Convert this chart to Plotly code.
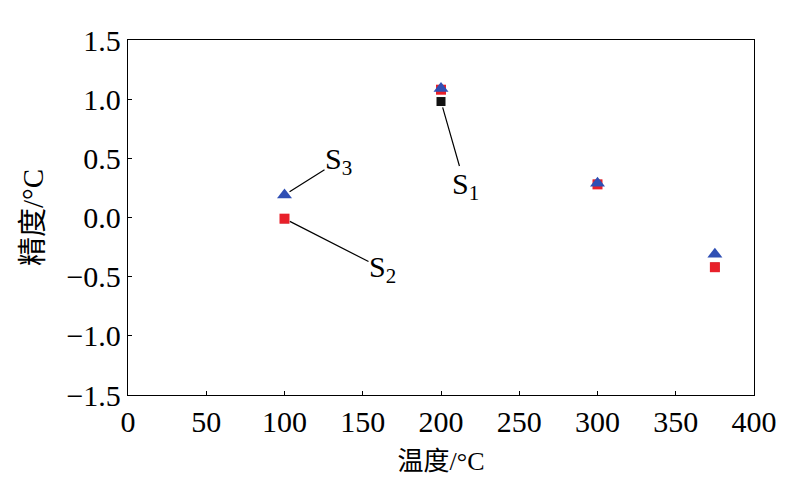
import plotly.graph_objects as go

temps = [100, 200, 300, 375]
s1 = [-0.01, 0.98, 0.28, -0.42]
s2 = [-0.01, 1.08, 0.28, -0.42]
s3 = [0.19, 1.09, 0.29, -0.31]
x_ticks = [0, 50, 100, 150, 200, 250, 300, 350, 400]
y_ticks = [-1.5, -1.0, -0.5, 0.0, 0.5, 1.0, 1.5]

FONT = "Liberation Serif, Noto Sans CJK SC, serif"

fig = go.Figure()
fig.add_trace(go.Scatter(x=temps, y=s1, mode="markers", name="S1",
                         marker=dict(symbol="square", size=9, color="#111111")))
fig.add_trace(go.Scatter(x=temps, y=s2, mode="markers", name="S2",
                         marker=dict(symbol="square", size=10, color="#e8202a")))
fig.add_trace(go.Scatter(x=temps, y=s3, mode="markers", name="S3",
                         marker=dict(symbol="triangle-up", size=13, color="#2f4fb4")))

ann_common = dict(xref="x", yref="y", showarrow=True, arrowhead=0, arrowwidth=1.2,
                  arrowcolor="black", standoff=6, font=dict(family=FONT, size=30, color="black"),
                  borderpad=0)
fig.add_annotation(x=temps[0], y=s3[0], text="S<sub>3</sub>", ax=54, ay=-34, **ann_common)
fig.add_annotation(x=temps[0], y=s2[0], text="S<sub>2</sub>", ax=98, ay=50, **ann_common)
fig.add_annotation(x=temps[1], y=s1[1], text="S<sub>1</sub>", ax=24, ay=84, **ann_common)

axis_common = dict(showgrid=False, zeroline=False, showline=True, linecolor="black",
                   linewidth=1.3, mirror=True, ticks="inside", ticklen=4, automargin=False,
                   tickcolor="black", tickfont=dict(family=FONT, size=30, color="black"))

fig.update_xaxes(range=[0, 400], tickvals=x_ticks, ticktext=[str(v) for v in x_ticks],
                 title=dict(text="温度/°C", font=dict(family=FONT, size=26, color="black"), standoff=14),
                 **axis_common)
fig.update_yaxes(range=[-1.5, 1.5], tickvals=y_ticks, tickformat=".1f",
                 title=dict(text="精度/°C", font=dict(family=FONT, size=29, color="black"), standoff=14),
                 **axis_common)

fig.update_layout(width=796, height=490, showlegend=False,
                  margin=dict(l=128, r=42, t=40, b=95, pad=0),
                  plot_bgcolor="white", paper_bgcolor="white")

fig.write_html("out.html", config={"displayModeBar": False},
               post_script="document.body.style.margin='0';")
